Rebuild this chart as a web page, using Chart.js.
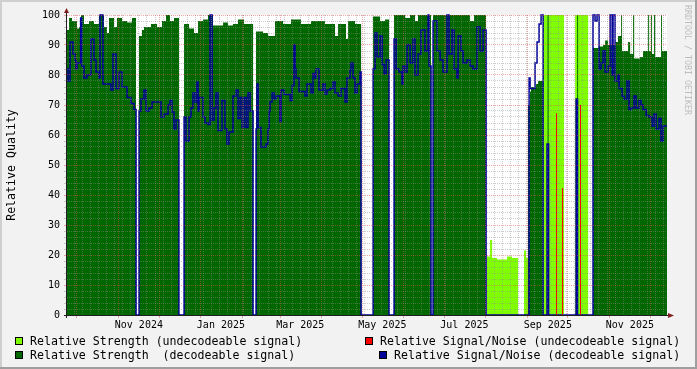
<!DOCTYPE html>
<html>
<head>
<meta charset="utf-8">
<title>Relative Quality</title>
<script src="https://cdn.jsdelivr.net/npm/chart.js@4.4.1/dist/chart.umd.min.js"></script>
<style>
  html, body { margin: 0; padding: 0; background: #f2f2f2; }
  #chart_1 { display: block; }
</style>
</head>
<body>
<canvas id="chart_1" width="697" height="369"></canvas>
<script>
// all times are days counted from 2024-10-01 00:00 UTC
const startDay = -7.43;
const endDay = 438.6;

// Relative Strength (decodeable signal)
const strengthDays = [
  -7.43, -5.9, -3.7, 0, 1.5, 3.0, 5.2, 8.9, 12.6, 16.4, 20.1, 22.3, 23.8, 27.5, 29.7, 33.5, 37.2, 40.9, 43.9,
  46.1, 48.3, 49.8, 55.0, 59.5, 63.2, 66.2, 69.1, 72.1, 75.8,
  79.6, 83.3, 87.0, 90.0, 93.7, 97.4, 101.1, 108.6, 112.3, 116.0, 119.7, 124.2, 130.9,
  133.1, 138.3, 142.0, 147.2, 153.2, 159.1, 166.5, 174.0, 184.4, 191.8, 194.1, 200.0, 201.5, 206.7, 211.2,
  220.1, 225.3, 229.0, 232.0,
  235.7, 243.9, 247.6, 251.3, 253.5, 263.2,
  264.7, 292.2, 295.2, 304.1,
  335.3, 336.8, 337.5, 341.3, 342.8, 346.5,
  349.8, 350.6, 371.8, 372.5,
  383.6, 387.4, 391.1, 392.6, 394.8, 400.0, 402.2, 404.5, 405.2, 409.7, 411.2, 413.4, 414.2,
  418.6, 420.8, 424.6, 425.3, 426.8, 427.5, 429.0, 429.8, 434.2, 434.9, 438.6
];
const strengthVals = [
  95, 99, 98, 95.5, 96, 100, 97, 98, 97, 100, 96, 94, 99, 96, 99, 98, 97.5, 99, 0,
  93, 95, 96, 97, 96, 98, 100, 98, 99, 0,
  97, 95.5, 94, 98, 98.5, 100, 96.5, 97.5, 96.5, 97, 98.5, 97, 0,
  94.5, 94, 93, 98, 97, 98.5, 97, 98, 97, 93, 97, 92, 98, 97, 0,
  99.5, 98, 98.5, 0,
  100, 99, 100, 98, 100, 0,
  100, 98, 100, 0,
  70, 74.5, 76, 77, 78, 0,
  100, 0, 100, 0,
  89, 89.5, 90, 91.5, 90, 91, 93, 100, 88, 91, 87, 100, 85.5,
  86, 88, 100, 88, 100, 87, 100, 86, 100, 88, 88
];

// Relative Signal/Noise (decodeable signal)
const snrDays = [
  -7.43, -6.7, -5.2, -3.0, -1.5, -0.7, 0, 2.7, 3.5, 5.2, 7.4, 10.4, 12.6, 14.1, 16.4, 17.1, 19.3,
  25.3, 26.8, 29.0, 31.2, 33.5, 37.2, 40.1, 42.4, 43.9,
  46.1, 47.6, 49.8, 51.3, 53.5, 55.8, 62.5, 64.7, 67.7, 69.1, 70.6, 72.1, 73.6, 75.8,
  79.6, 81.0, 83.3, 84.8, 86.2, 87.7, 89.2, 90.0, 90.7, 93.7, 95.2, 97.4, 98.9, 100.4, 101.9,
  103.3, 104.8, 107.8, 110.0, 111.5, 113.0, 116.0, 118.2, 119.7, 121.2, 122.7, 124.2, 125.7,
  127.1, 128.6, 130.9,
  133.1, 133.8, 134.6, 136.8, 140.5, 142.0, 142.8, 143.5, 145.0, 146.5, 148.0, 150.9, 151.7,
  153.9, 158.4, 159.9, 161.3, 162.1, 162.8, 165.1, 169.5, 171.0, 174.0, 175.5, 177.0, 177.7,
  179.9, 182.9, 184.4, 185.9, 188.1, 190.3, 191.8, 194.1, 196.3, 199.3, 200.7, 203.0, 203.7,
  205.2, 206.7, 208.2, 210.4, 211.2,
  220.1, 221.6, 223.1, 225.3, 226.8, 228.3, 229.8, 232.0,
  235.7, 237.2, 239.4, 241.6, 242.4, 243.9, 245.4, 247.6, 249.8, 251.3, 253.5, 255.8, 258.7,
  261.0, 261.7, 263.2,
  264.7, 267.7, 269.9, 272.1, 275.1, 276.6, 278.8, 280.3, 282.5, 283.3, 285.5, 287.0, 290.0,
  292.2, 294.4, 297.4, 299.6, 301.9, 304.1,
  336.1, 336.8, 340.5, 342.0, 343.5, 345.0, 346.5,
  349.4, 350.6, 371.0, 372.1,
  383.6, 385.1, 386.6, 388.1, 389.6, 391.1, 392.6, 394.8, 396.3, 397.8, 398.5, 400.0, 402.2,
  403.0, 405.2, 406.7, 408.9, 410.4, 411.9, 414.1, 415.6, 417.8, 419.3, 420.8, 423.1, 425.3,
  427.5, 429.0, 430.5, 432.7, 434.2, 435.7, 438.6
];
const snrVals = [
  82, 78, 91, 87, 85, 82, 84, 99, 83, 79, 80, 92, 85, 81, 79, 100, 77,
  75, 87, 75.5, 81, 76, 72.5, 70.5, 68.5, 0,
  68, 72, 75, 68, 69, 71, 66, 67, 70, 71.5, 67.7, 62, 65, 0,
  66, 58, 66, 69, 74, 71, 77.7, 68, 72.5, 66, 64, 63.5, 100, 65, 69,
  74, 61.5, 71.5, 62, 57, 61, 73, 75, 65.5, 72.5, 62.5, 72.5, 62.5,
  74, 68, 0,
  62, 77, 62.5, 56, 57, 62, 68, 71, 74, 72, 73, 64.5, 75,
  73.5, 71.5, 76.5, 90, 82, 79, 74.5, 73, 77, 74, 80.5, 79, 82,
  75, 77, 73.7, 75, 75.5, 77.7, 74, 73, 75.5, 71, 79, 81.5, 84,
  79, 74, 77, 81, 0,
  82, 94, 86, 93, 83.5, 80.5, 85, 0,
  92, 82, 81, 77, 83, 81, 90, 84, 92, 80, 87, 95, 88,
  100, 83, 0,
  98, 88, 85, 81, 100, 87, 95, 82, 79, 93, 88, 84, 85,
  83, 82, 96, 88, 95, 0,
  79, 75.5, 84, 91, 97, 100, 0,
  57, 0, 72, 0,
  100, 98, 100, 82, 84, 88, 81, 83, 100, 80, 100, 78, 80,
  75.5, 73, 72, 78, 68.5, 69, 73, 69, 71.5, 70, 68.5, 66.5, 66,
  63, 67, 62, 65.5, 58, 63, 63
];

// Relative Strength (undecodeable signal)
const weakDays = [-7.43, 304.8, 307.1, 308.6, 312.3, 319.7, 323.4, 327.9, 332.3, 333.8, 335.3, 346.5, 362.1, 370.3, 380.0, 438.6];
const weakVals = [0, 19.5, 25, 19, 18.5, 19.5, 19, 0, 21.5, 19, 0, 100, 0, 100, 0, 0];

// Relative Signal/Noise (undecodeable signal)
const weakSnrDays = [356.5, 360.9, 374.3];
const weakSnrVals = [67.3, 42.3, 70];

const tickLabels = ['Nov 2024', 'Jan 2025', 'Mar 2025', 'May 2025', 'Jul 2025', 'Sep 2025', 'Nov 2025'];
const labelMonths = [[2024, 11], [2025, 1], [2025, 3], [2025, 5], [2025, 7], [2025, 9], [2025, 11]];

const darkGreen = '#006600';
const lightGreen = '#7fff00';
const snrBlue = '#000099';
const snrRed = '#ff0000';
const gridMinor = 'rgba(143,143,143,0.45)';
const gridMajor = 'rgba(222,80,80,0.5)';
const monoFont = 'DejaVu Sans Mono';

function dayOf(y, m, d){
    return (Date.UTC(y, m - 1, d || 1) - Date.UTC(2024, 9, 1)) / 864e5;
}

function toPoints(days, vals){
    return days.map((d, i) => ({x: d, y: vals[i]}));
}

// single vertical strokes from zero
function spikePoints(days, vals){
    let pts = [];
    days.forEach((d, i) => {
        pts.push({x: d, y: 0}, {x: d, y: vals[i]}, {x: d, y: null});
    });
    return pts;
}

function monthStarts(){
    let out = [];
    for(let y = 2024, m = 10; y < 2026; ){
        let d = dayOf(y, m);
        if(d > startDay && d < endDay) out.push(d);
        m++;
        if(m > 12){ m = 1; y++; }
    }
    return out;
}

function buildXTicks(scale){
    let majors = monthStarts();
    let ticks = [];
    // minor lines every 6 days
    for(let d = -2; d < endDay; d += 6){
        if(majors.indexOf(d) < 0) ticks.push({value: d, kind: 'minor'});
    }
    majors.forEach(d => ticks.push({value: d, kind: 'major'}));
    labelMonths.forEach((ym, i) => {
        ticks.push({value: dayOf(ym[0], ym[1]) + 15, kind: 'label', text: tickLabels[i]});
    });
    ticks.sort((a, b) => a.value - b.value);
    scale.ticks = ticks;
}

function xGridColor(c){
    if(!c.tick) return 'transparent';
    if(c.tick.kind === 'major') return gridMajor;
    if(c.tick.kind === 'minor') return gridMinor;
    return 'transparent';
}

function xTickColor(c){
    if(c.tick && c.tick.kind === 'major') return gridMajor;
    return 'transparent';
}

function yGridColor(c){
    if(!c.tick) return gridMinor;
    return c.tick.value % 10 === 0 ? gridMajor : gridMinor;
}

const legendItems = [
    {text: 'Relative Strength (undecodeable signal)', color: lightGreen, bx: 15, by: 337, tx: 30},
    {text: 'Relative Strength  (decodeable signal)', color: darkGreen, bx: 15, by: 351, tx: 30},
    {text: 'Relative Signal/Noise (undecodeable signal)', color: snrRed, bx: 365, by: 337, tx: 380},
    {text: 'Relative Signal/Noise (decodeable signal)', color: snrBlue, bx: 379, by: 351, tx: 394}
];

const framePlugin = {
    id: 'frame',
    beforeDraw(chart){
        const {ctx, chartArea: a} = chart;
        ctx.save();
        ctx.fillStyle = '#f2f2f2';
        ctx.fillRect(0, 0, chart.width, chart.height);
        ctx.fillStyle = '#ffffff';
        ctx.fillRect(a.left, a.top, a.right - a.left, a.bottom - a.top);
        ctx.restore();
    },
    afterDraw(chart){
        const {ctx, chartArea: a} = chart;
        const W = chart.width, H = chart.height;
        ctx.save();

        // axes
        ctx.strokeStyle = '#1f1f1f';
        ctx.lineWidth = 1;
        ctx.beginPath();
        ctx.moveTo(a.left - 0.5, a.bottom + 3);
        ctx.lineTo(a.left - 0.5, a.top - 2);
        ctx.moveTo(a.left - 3, a.bottom + 0.5);
        ctx.lineTo(a.right + 1, a.bottom + 0.5);
        ctx.stroke();

        // arrows
        ctx.fillStyle = '#801f1f';
        ctx.beginPath();
        ctx.moveTo(a.left - 3, a.top - 2);
        ctx.lineTo(a.left + 2, a.top - 2);
        ctx.lineTo(a.left - 0.5, a.top - 7);
        ctx.closePath();
        ctx.fill();
        ctx.beginPath();
        ctx.moveTo(a.right + 1, a.bottom - 2);
        ctx.lineTo(a.right + 1, a.bottom + 3);
        ctx.lineTo(a.right + 7, a.bottom + 0.5);
        ctx.closePath();
        ctx.fill();

        // vertical title
        ctx.fillStyle = '#000000';
        ctx.font = '11.6px "' + monoFont + '"';
        ctx.textAlign = 'center';
        ctx.textBaseline = 'middle';
        ctx.save();
        ctx.translate(12, (a.top + a.bottom) / 2);
        ctx.rotate(-Math.PI / 2);
        ctx.fillText('Relative Quality', 0, 0);
        ctx.restore();

        // watermark
        ctx.save();
        ctx.fillStyle = '#bdbdbd';
        ctx.font = '8.3px "' + monoFont + '"';
        ctx.translate(687, 60);
        ctx.rotate(Math.PI / 2);
        ctx.fillText('RRDTOOL / TOBI OETIKER', 0, 0);
        ctx.restore();

        // legend
        ctx.textAlign = 'left';
        ctx.textBaseline = 'alphabetic';
        ctx.font = '11.6px "' + monoFont + '"';
        legendItems.forEach(it => {
            ctx.fillStyle = it.color;
            ctx.fillRect(it.bx, it.by, 8, 8);
            ctx.strokeStyle = '#000000';
            ctx.strokeRect(it.bx + 0.5, it.by + 0.5, 7, 7);
            ctx.fillStyle = '#000000';
            ctx.fillText(it.text, it.tx, it.by + 8);
        });

        // shaded frame
        ctx.fillStyle = '#cfcfcf';
        ctx.fillRect(0, 0, W, 2);
        ctx.fillRect(0, 0, 2, H);
        ctx.fillStyle = '#9e9e9e';
        ctx.fillRect(0, H - 2, W, 2);
        ctx.fillRect(W - 2, 0, 2, H);
        ctx.restore();
    }
};

Chart.defaults.font.family = monoFont;
Chart.defaults.font.size = 10;
Chart.defaults.color = '#000000';

let chart = new Chart('chart_1', {
    type: 'line',
    data: {
        datasets: [
            {
                label: 'Relative Signal/Noise (undecodeable signal)',
                data: spikePoints(weakSnrDays, weakSnrVals),
                borderColor: snrRed,
                borderWidth: 1,
                pointRadius: 0,
                stepped: true,
                fill: false,
                spanGaps: false
            },
            {
                label: 'Relative Signal/Noise (decodeable signal)',
                data: toPoints(snrDays, snrVals),
                borderColor: snrBlue,
                borderWidth: 1.5,
                pointRadius: 0,
                stepped: true,
                fill: false,
                clip: 2
            },
            {
                label: 'Relative Strength  (decodeable signal)',
                data: toPoints(strengthDays, strengthVals),
                borderColor: 'rgba(0,0,0,0)',
                backgroundColor: darkGreen,
                borderWidth: 0,
                pointRadius: 0,
                stepped: true,
                fill: 'origin'
            },
            {
                label: 'Relative Strength (undecodeable signal)',
                data: toPoints(weakDays, weakVals),
                borderColor: 'rgba(0,0,0,0)',
                backgroundColor: lightGreen,
                borderWidth: 0,
                pointRadius: 0,
                stepped: true,
                fill: 'origin'
            }
        ]
    },
    options: {
        responsive: false,
        maintainAspectRatio: false,
        devicePixelRatio: 1,
        animation: false,
        events: [],
        layout: { padding: { left: 0, top: 15, right: 30, bottom: 0 } },
        plugins: {
            legend: { display: false },
            tooltip: { enabled: false },
            title: { display: false }
        },
        scales: {
            x: {
                type: 'linear',
                min: startDay,
                max: endDay,
                afterBuildTicks: buildXTicks,
                afterFit: s => { s.height = 54; },
                grid: {
                    z: 1,
                    color: xGridColor,
                    tickColor: xTickColor,
                    tickLength: 3,
                    lineWidth: 1
                },
                border: { display: false, dash: [1, 1] },
                ticks: {
                    autoSkip: false,
                    maxRotation: 0,
                    minRotation: 0,
                    padding: 1,
                    font: { family: monoFont, size: 10 },
                    callback: (v, i, ticks) => ticks[i].text || ''
                }
            },
            y: {
                type: 'linear',
                min: 0,
                max: 100,
                afterFit: s => { s.width = 67; },
                grid: {
                    z: 1,
                    color: yGridColor,
                    tickLength: 3,
                    lineWidth: 1
                },
                border: { display: false, dash: [1, 1] },
                ticks: {
                    stepSize: 2,
                    autoSkip: false,
                    padding: 4,
                    font: { family: monoFont, size: 10 },
                    callback: v => (v % 10 === 0 ? String(v) : '')
                }
            }
        }
    },
    plugins: [framePlugin]
});
</script>
</body>
</html>
